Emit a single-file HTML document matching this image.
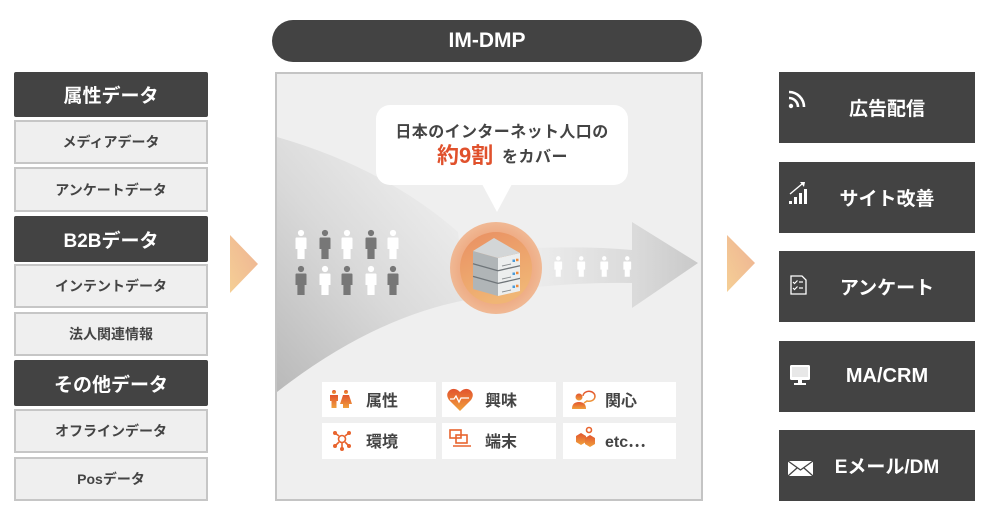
<!DOCTYPE html>
<html><head><meta charset="utf-8"><style>
*{margin:0;padding:0;box-sizing:border-box}
body{width:991px;height:519px;background:#fff;position:relative;overflow:hidden;font-family:"Liberation Sans","Noto Sans CJK JP",sans-serif;font-weight:bold}
.b{position:absolute;display:flex;align-items:center;justify-content:center}
.h{left:14px;width:194px;background:#434343;color:#fff;font-size:19px;border-radius:2px}
.s{left:14px;width:194px;background:#efefef;border:2px solid #c6c6c6;color:#444;font-size:14px}
.r{left:779px;width:196px;height:71px;background:#434343;color:#fff;font-size:19px;padding-left:20px}
svg{position:absolute;left:0;top:0}
</style></head><body>

<div class="b h" style="top:72px;height:45px">属性データ</div>
<div class="b s" style="top:120px;height:44px">メディアデータ</div>
<div class="b s" style="top:167px;height:45px">アンケートデータ</div>
<div class="b h" style="top:216px;height:46px">B2Bデータ</div>
<div class="b s" style="top:264px;height:44px">インテントデータ</div>
<div class="b s" style="top:312px;height:44px">法人関連情報</div>
<div class="b h" style="top:360px;height:46px">その他データ</div>
<div class="b s" style="top:409px;height:44px">オフラインデータ</div>
<div class="b s" style="top:457px;height:44px">Posデータ</div>

<div class="b" style="left:272px;top:20px;width:430px;height:42px;border-radius:21px;background:#434343;color:#fff;font-size:21px">IM-DMP</div>
<div style="position:absolute;left:275px;top:72px;width:428px;height:429px;background:#efefef;border:2px solid #c4c4c4"></div>

<svg width="991" height="519" viewBox="0 0 991 519">
<defs>
<linearGradient id="og" x1="0" y1="1" x2="1" y2="0"><stop offset="0" stop-color="#f5cf95"/><stop offset="1" stop-color="#eeb294"/></linearGradient>
<linearGradient id="fg" x1="277" y1="392" x2="470" y2="230" gradientUnits="userSpaceOnUse"><stop offset="0" stop-color="#b9b9b9"/><stop offset="0.55" stop-color="#d9d9d9"/><stop offset="1" stop-color="#ececec"/></linearGradient>
<linearGradient id="ag" x1="540" y1="0" x2="698" y2="0" gradientUnits="userSpaceOnUse"><stop offset="0" stop-color="#ebebeb"/><stop offset="0.6" stop-color="#dadada"/><stop offset="1" stop-color="#c9c9c9"/></linearGradient>
<radialGradient id="cg1" cx="0.5" cy="0.5" r="0.5"><stop offset="0.7" stop-color="#eea47a"/><stop offset="1" stop-color="#f0b690"/></radialGradient>
<linearGradient id="cg2" x1="0" y1="0" x2="0.4" y2="1"><stop offset="0" stop-color="#e98f62"/><stop offset="1" stop-color="#f0b575"/></linearGradient>
<linearGradient id="ic" x1="0" y1="0" x2="0" y2="1"><stop offset="0" stop-color="#e2542e"/><stop offset="1" stop-color="#f0a03c"/></linearGradient>
<symbol id="p" viewBox="0 0 12 29" overflow="visible"><circle cx="6" cy="3" r="3.1"/><path d="M0.5,8.5 Q0.5,7.5 1.5,7.5 H10.5 Q11.5,7.5 11.5,8.5 V19 H9.6 V29 H2.4 V19 H0.5 Z"/></symbol>
</defs>
<polygon points="230,235 258,264 230,293" fill="url(#og)"/>
<polygon points="727,235 755,263 727,292" fill="url(#og)"/>
<path d="M277,137 Q385,168 458,232 L466,300 Q372,318 277,392 Z" fill="url(#fg)"/>
<path d="M535,248 Q590,246 632,250 L632,222 L698,263 L632,308 L632,283 Q590,282 535,287 Z" fill="url(#ag)"/>
<rect x="376" y="105" width="252" height="80" rx="14" fill="#fff"/>
<polygon points="482,184 512,184 497,212" fill="#fff"/>
<text x="502" y="137" text-anchor="middle" font-size="16" fill="#444" font-weight="bold" letter-spacing="0.4" font-family="Liberation Sans,Noto Sans CJK JP,sans-serif">日本のインターネット人口の</text>
<text x="437" y="163" font-size="22" fill="#e0512c" font-weight="bold" font-family="Liberation Sans,Noto Sans CJK JP,sans-serif">約9割</text>
<text x="502" y="162" font-size="16" fill="#444" font-weight="bold" letter-spacing="0.5" font-family="Liberation Sans,Noto Sans CJK JP,sans-serif">をカバー</text>
<g>
<use href="#p" x="295" y="230" width="12" height="29" fill="#fff"/>
<use href="#p" x="319" y="230" width="12" height="29" fill="#777"/>
<use href="#p" x="341" y="230" width="12" height="29" fill="#fff"/>
<use href="#p" x="365" y="230" width="12" height="29" fill="#777"/>
<use href="#p" x="387" y="230" width="12" height="29" fill="#fff"/>
<use href="#p" x="295" y="266" width="12" height="29" fill="#777"/>
<use href="#p" x="319" y="266" width="12" height="29" fill="#fff"/>
<use href="#p" x="341" y="266" width="12" height="29" fill="#777"/>
<use href="#p" x="365" y="266" width="12" height="29" fill="#fff"/>
<use href="#p" x="387" y="266" width="12" height="29" fill="#777"/>
</g>
<g fill="#fff">
<use href="#p" x="554" y="256" width="8.5" height="21"/>
<use href="#p" x="577" y="256" width="8.5" height="21"/>
<use href="#p" x="600" y="256" width="8.5" height="21"/>
<use href="#p" x="623" y="256" width="8.5" height="21"/>
</g>
<circle cx="496" cy="268" r="46" fill="url(#cg1)" opacity="0.95"/>
<circle cx="496" cy="268" r="36" fill="url(#cg2)"/>
<polygon points="473,251 498,258 498,296 473,289" fill="#b0b5b7"/>
<polygon points="498,258 520,253 520,291 498,296" fill="#eceeee"/>
<polygon points="494,238 473,251 498,258 520,253" fill="#d3d6d7"/>
<g stroke="#6f7579" stroke-width="1.3">
<line x1="473" y1="263.7" x2="498" y2="270.7"/><line x1="498" y1="270.7" x2="520" y2="265.7"/>
<line x1="473" y1="276.4" x2="498" y2="283.4"/><line x1="498" y1="283.4" x2="520" y2="278.4"/>
</g>
<g stroke="#8a8f92" stroke-width="0.9">
<line x1="502" y1="266" x2="511" y2="264"/><line x1="502" y1="279" x2="511" y2="277"/><line x1="502" y1="292" x2="511" y2="290"/>
</g>
<g><rect x="512.5" y="259.5" width="2.5" height="2.5" fill="#4a9ad8"/><rect x="516" y="258.7" width="2.5" height="2.5" fill="#f08a3a"/>
<rect x="512.5" y="272.5" width="2.5" height="2.5" fill="#4a9ad8"/><rect x="516" y="271.7" width="2.5" height="2.5" fill="#f08a3a"/>
<rect x="512.5" y="285.5" width="2.5" height="2.5" fill="#4a9ad8"/><rect x="516" y="284.7" width="2.5" height="2.5" fill="#f08a3a"/></g>

<g fill="#fff">
<rect x="322" y="382" width="114" height="35"/><rect x="442" y="382" width="114" height="35"/><rect x="563" y="382" width="113" height="35"/>
<rect x="322" y="423" width="114" height="36"/><rect x="442" y="423" width="114" height="36"/><rect x="563" y="423" width="113" height="36"/>
</g>
<g font-family="Liberation Sans,Noto Sans CJK JP,sans-serif" font-weight="bold" font-size="16" fill="#444">
<text x="366" y="406">属性</text><text x="485" y="406">興味</text><text x="605" y="406">関心</text>
<text x="366" y="447">環境</text><text x="485" y="447">端末</text><text x="605" y="447">etc⋯</text>
</g>
<g fill="url(#ic)">
<circle cx="334" cy="392" r="2"/><path d="M330,395 h8 v6 h-1.5 v7 h-5 v-7 h-1.5z"/>
<circle cx="346" cy="392" r="2"/><path d="M343,395 h6 l3,9 h-3 v4 h-6 v-4 h-3z"/>
<path d="M460,411 L449,400 Q445,394 450,390 Q455,387 460,392 Q465,387 470,390 Q475,394 471,400 Z"/>
<circle cx="579" cy="397" r="3.5"/><path d="M572,409 Q572,402 579,402 Q586,402 586,409 Z"/>
<path d="M576,436 l5,-3 l5,3 v6 l-5,3 l-5,-3z"/><path d="M585,438 l5,-3 l5,3 v6 l-5,3 l-5,-3z"/>
</g>
<path d="M450,399 h4 l2,-3 l3,6 l2,-4 h8" stroke="#fff" stroke-width="1.3" fill="none"/>
<path d="M583,396 a6,5 0 1 1 4,5 l-3,2" stroke="url(#ic)" stroke-width="1.5" fill="none"/>
<g stroke="#e8642e" stroke-width="1.6" fill="none">
<circle cx="342" cy="439" r="3.5"/><line x1="335" y1="433" x2="339" y2="436"/><line x1="349" y1="433" x2="345" y2="436"/><line x1="335" y1="446" x2="339" y2="442"/><line x1="349" y1="446" x2="345" y2="442"/><line x1="342" y1="443" x2="342" y2="449"/>
<rect x="450" y="430" width="11" height="8"/><rect x="456" y="435" width="11" height="8"/><line x1="453" y1="446" x2="471" y2="446"/>
<circle cx="589" cy="430" r="2.5"/>
</g>
<g fill="#e8642e"><circle cx="335" cy="433" r="2"/><circle cx="349" cy="433" r="2"/><circle cx="335" cy="446" r="2"/><circle cx="349" cy="446" r="2"/><circle cx="342" cy="449" r="2"/></g>
</svg>

<div class="b r" style="top:72px">広告配信</div>
<div class="b r" style="top:162px">サイト改善</div>
<div class="b r" style="top:251px">アンケート</div>
<div class="b r" style="top:341px;font-family:'Liberation Sans',sans-serif;font-size:20px">MA/CRM</div>
<div class="b r" style="top:430px">Eメール/DM</div>

<svg width="991" height="519" viewBox="0 0 991 519" style="pointer-events:none">
<g fill="none" stroke="#fff" stroke-width="2.6"><path d="M789,98 a9,9 0 0 1 9,9"/><path d="M789,92 a15,15 0 0 1 15,15"/></g>
<circle cx="791" cy="106" r="2.2" fill="#fff"/>
<g fill="#fff"><rect x="789" y="201" width="3" height="3"/><rect x="794" y="197" width="3" height="7"/><rect x="799" y="193" width="3" height="11"/><rect x="804" y="189" width="3" height="15"/></g>
<path d="M790,194 L802,184" stroke="#fff" stroke-width="1.4"/><polygon points="800,182 805,182 804,187" fill="#fff"/>
<path d="M791,276 h11 l4,4 v14 h-15 z" fill="none" stroke="#fff" stroke-width="1.3"/>
<g stroke="#fff" stroke-width="1.2" fill="none"><path d="M793,282 l1.5,1.5 l3,-3"/><path d="M793,288 l1.5,1.5 l3,-3"/><line x1="799" y1="282" x2="803" y2="282"/><line x1="799" y1="288" x2="803" y2="288"/></g>
<rect x="790" y="365" width="20" height="15" rx="1.5" fill="#fff"/><rect x="792" y="367" width="16" height="10" fill="#e8e8e8"/><rect x="798" y="380" width="4" height="3" fill="#fff"/><rect x="794" y="383" width="12" height="2" fill="#fff"/>
<rect x="788" y="461" width="25" height="15" fill="#fff"/><path d="M788,461 L800.5,470 L813,461 M788,476 L797,468 M813,476 L804,468" stroke="#434343" stroke-width="1.3" fill="none"/>
</svg>
</body></html>
